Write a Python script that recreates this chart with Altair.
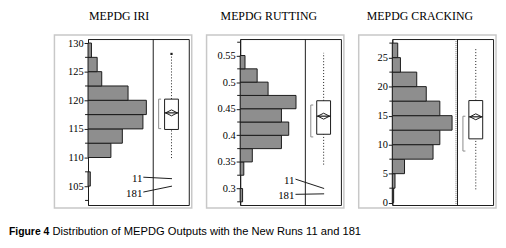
import altair as alt
import pandas as pd

# ---------------- data ----------------
PANEL_TITLES = ["MEPDG IRI", "MEPDG RUTTING", "MEPDG CRACKING"]
CAPTION_BOLD = "Figure 4"
CAPTION_TEXT = "Distribution of MEPDG Outputs with the New Runs 11 and 181"

# histogram bins (lower edges) and counts
IRI_BIN_START = [105, 107.5, 110, 112.5, 115, 117.5, 120, 122.5, 125, 127.5]
IRI_COUNTS = [2, 0, 20, 30, 48, 51, 35, 12, 8, 3]
RUT_BIN_START = [0.275, 0.3, 0.325, 0.35, 0.375, 0.4, 0.425, 0.45, 0.475, 0.5, 0.525]
RUT_COUNTS = [2, 0, 3, 10, 34, 40, 34, 46, 23, 14, 4]
CRK_BIN_START = [0, 2.5, 5, 7.5, 10, 12.5, 15, 17.5, 20, 22.5, 25]
CRK_COUNTS = [1, 2, 9, 30, 35, 44, 35, 25, 18, 6, 4]
BIN_WIDTHS = [2.5, 0.025, 2.5]

# axis tick labels and minor ticks
IRI_TICKS = [105, 110, 115, 120, 125, 130]
RUT_TICKS = [0.3, 0.35, 0.4, 0.45, 0.5, 0.55]
CRK_TICKS = [0, 5, 10, 15, 20, 25]
IRI_MINOR = [102.5, 107.5, 112.5, 117.5, 122.5, 127.5]
RUT_MINOR = [0.275, 0.325, 0.375, 0.425, 0.475, 0.525, 0.575]
CRK_MINOR = [2.5, 7.5, 12.5, 17.5, 22.5, 27.5]
IRI_DOMAIN = [101.7, 130.7]
RUT_DOMAIN = [0.269, 0.581]
CRK_DOMAIN = [-0.4, 28.2]

# box plots: [whisker low, Q1, median, Q3, whisker high]
IRI_BOX = [109.9, 114.9, 117.8, 120.2, 128.0]
RUT_BOX = [0.345, 0.402, 0.436, 0.465, 0.555]
CRK_BOX = [2.3, 11.0, 14.8, 17.6, 26.6]
IRI_MEAN = 117.8
RUT_MEAN = 0.436
CRK_MEAN = 14.8
IRI_SHORTEST_HALF = [115.05, 120.2]
RUT_SHORTEST_HALF = [0.397, 0.457]
CRK_SHORTEST_HALF = [8.9, 14.9]
IRI_OUTLIERS = [128.1]

# the two new runs
RUN_LABELS = ["11", "181"]
IRI_RUN_VALUES = [106.3, 105.0]
RUT_RUN_VALUES = [0.300, 0.290]

# ---------------- style ----------------
H = 168
HIST_W = 66
BOX_W = 36
W = HIST_W + BOX_W
BOX_L, BOX_R, BOX_C = HIST_W + 11.5, HIST_W + 25.5, HIST_W + 18.5
BRACKET_X = HIST_W + 5.5
FRAME = "#c8c8c8"
EDGE = "#1a1a1a"
BAR = "#8e8e8e"
SERIF = "Liberation Serif"
SANS = "Liberation Sans"
TITLE_Y = -19


def make_panel(title, title_x, bin_start, counts, bin_w, ticks, minor, ydom, xmax,
               box, mean, half, outliers, run_values, label_dy, dotted=False, caption=False):
    yscale = alt.Scale(domain=ydom, nice=False, zero=False)
    yaxis = alt.Axis(values=ticks, format="~g", title=None, grid=False,
                     tickSize=4, labelPadding=1, labelFont=SERIF, labelFontSize=10.5,
                     labelColor="#000", domainColor=EDGE, tickColor=EDGE)
    hist_df = pd.DataFrame({"lo": bin_start,
                            "hi": [round(b + bin_w, 4) for b in bin_start],
                            "n": counts})
    hist_df = hist_df[hist_df.n > 0]
    one = pd.DataFrame({"k": [0]})

    def ys(f):
        return alt.Y(f, scale=yscale, axis=yaxis)

    frame = alt.Chart(one).mark_rect(fillOpacity=0, stroke=FRAME, strokeWidth=1.5).encode(
        x=alt.value(-34), x2=alt.value(W + 3), y=alt.value(-4), y2=alt.value(H + 3))
    bars = alt.Chart(hist_df).transform_calculate(z="0").mark_rect(
        fill=BAR, stroke=EDGE, strokeWidth=1).encode(
        y=ys("lo:Q"),
        y2="hi:Q",
        x=alt.X("z:Q", scale=alt.Scale(domain=[0, xmax * W / HIST_W], nice=False), axis=None),
        x2="n:Q")
    minor_ticks = alt.Chart(pd.DataFrame({"v": minor})).mark_rule(color=EDGE).encode(
        y=ys("v:Q"), x=alt.value(-3), x2=alt.value(0))
    divider = alt.Chart(one).mark_rule(color=EDGE).encode(
        x=alt.value(HIST_W), y=alt.value(0), y2=alt.value(H))
    title_mark = alt.Chart(pd.DataFrame({"t": [title]})).mark_text(
        font=SERIF, fontSize=12, align="center", baseline="alphabetic", color="#000").encode(
        text="t:N", x=alt.value(title_x), y=alt.value(TITLE_Y))
    layers = [frame, bars, minor_ticks, divider, title_mark]
    if dotted:
        layers.append(alt.Chart(one).mark_rule(color="#777", strokeDash=[1, 1]).encode(
            x=alt.value(HIST_W - 1.5), y=alt.value(0), y2=alt.value(H)))
    if caption:
        layers.append(alt.Chart(pd.DataFrame({"t": [CAPTION_BOLD]})).mark_text(
            font=SANS, fontSize=10.5, fontWeight="bold", align="left", baseline="alphabetic",
            color="#000").encode(text="t:N", x=alt.value(-80), y=alt.value(198.5)))
        layers.append(alt.Chart(pd.DataFrame({"t": [CAPTION_TEXT]})).mark_text(
            font=SANS, fontSize=11.3, align="left", baseline="alphabetic",
            color="#000").encode(text="t:N", x=alt.value(-36), y=alt.value(198.5)))

    bdf = pd.DataFrame({"wlo": [box[0]], "q1": [box[1]], "med": [box[2]], "q3": [box[3]],
                        "whi": [box[4]], "mean": [mean], "slo": [half[0]], "shi": [half[1]]})

    layers.append(alt.Chart(bdf).mark_rule(color=EDGE, strokeDash=[1, 2]).encode(
        y=ys("q3:Q"), y2="whi:Q", x=alt.value(BOX_C)))
    layers.append(alt.Chart(bdf).mark_rule(color=EDGE, strokeDash=[1, 2]).encode(
        y=ys("wlo:Q"), y2="q1:Q", x=alt.value(BOX_C)))
    layers.append(alt.Chart(bdf).mark_rect(fill="white", stroke=EDGE, strokeWidth=1).encode(
        y=ys("q1:Q"), y2="q3:Q", x=alt.value(BOX_L), x2=alt.value(BOX_R)))
    layers.append(alt.Chart(bdf).mark_rule(color=EDGE, strokeWidth=1.2).encode(
        y=ys("med:Q"), x=alt.value(BOX_L), x2=alt.value(BOX_R)))
    layers.append(alt.Chart(bdf).mark_point(
        shape="M-1,0L0,-0.5L1,0L0,0.5Z", size=144, filled=False, color=EDGE,
        strokeWidth=1, opacity=1).encode(y=ys("mean:Q"), x=alt.value(BOX_C)))
    layers.append(alt.Chart(bdf).mark_rule(color="#8a8a8a").encode(
        y=ys("slo:Q"), y2="shi:Q", x=alt.value(BRACKET_X)))
    layers.append(alt.Chart(bdf).mark_rule(color="#8a8a8a").encode(
        y=ys("slo:Q"), x=alt.value(BRACKET_X), x2=alt.value(BRACKET_X + 2.5)))
    layers.append(alt.Chart(bdf).mark_rule(color="#8a8a8a").encode(
        y=ys("shi:Q"), x=alt.value(BRACKET_X), x2=alt.value(BRACKET_X + 2.5)))
    if outliers:
        layers.append(alt.Chart(pd.DataFrame({"v": outliers})).mark_square(
            size=5, color=EDGE, opacity=1).encode(y=ys("v:Q"), x=alt.value(BOX_C)))
    for lab, val, dy in zip(RUN_LABELS, run_values, label_dy):
        rdf = pd.DataFrame({"run": [lab], "v": [val]})
        layers.append(alt.Chart(rdf).mark_text(
            font=SERIF, fontSize=11, align="right", baseline="middle", dy=dy,
            color="#000").encode(text="run:N", y=ys("v:Q"), x=alt.value(HIST_W - 11)))
        layers.append(alt.Chart(rdf).mark_rule(
            color=EDGE, yOffset=dy - 2, y2Offset=0).encode(
            y=ys("v:Q"), y2="v:Q", x=alt.value(HIST_W - 10), x2=alt.value(BOX_C + 0.5)))
    return alt.layer(*layers).properties(width=W, height=H)


p1 = make_panel(PANEL_TITLES[0], 31.5, IRI_BIN_START, IRI_COUNTS, BIN_WIDTHS[0], IRI_TICKS,
                IRI_MINOR, IRI_DOMAIN, 57, IRI_BOX, IRI_MEAN, IRI_SHORTEST_HALF, IRI_OUTLIERS,
                IRI_RUN_VALUES, [0.5, 8], caption=True)
p2 = make_panel(PANEL_TITLES[1], 29, RUT_BIN_START, RUT_COUNTS, BIN_WIDTHS[1], RUT_TICKS,
                RUT_MINOR, RUT_DOMAIN, 53.7, RUT_BOX, RUT_MEAN, RUT_SHORTEST_HALF, [],
                RUT_RUN_VALUES, [-7.5, 2.5])
p3 = make_panel(PANEL_TITLES[2], 28, CRK_BIN_START, CRK_COUNTS, BIN_WIDTHS[2], CRK_TICKS,
                CRK_MINOR, CRK_DOMAIN, 48, CRK_BOX, CRK_MEAN, CRK_SHORTEST_HALF, [],
                [], [], dotted=True)

chart = alt.hconcat(p1, p2, p3, spacing=52, bounds="flush").properties(
    padding=0, background="white"
).configure_view(stroke=EDGE, strokeWidth=1).configure_axis(
    domainColor=EDGE, tickColor=EDGE, labelColor="#000", labelFont=SERIF,
    labelFontSize=10.5, domainWidth=1, tickWidth=1)

chart.save("out.html", embed_options={"renderer": "svg", "actions": False})
